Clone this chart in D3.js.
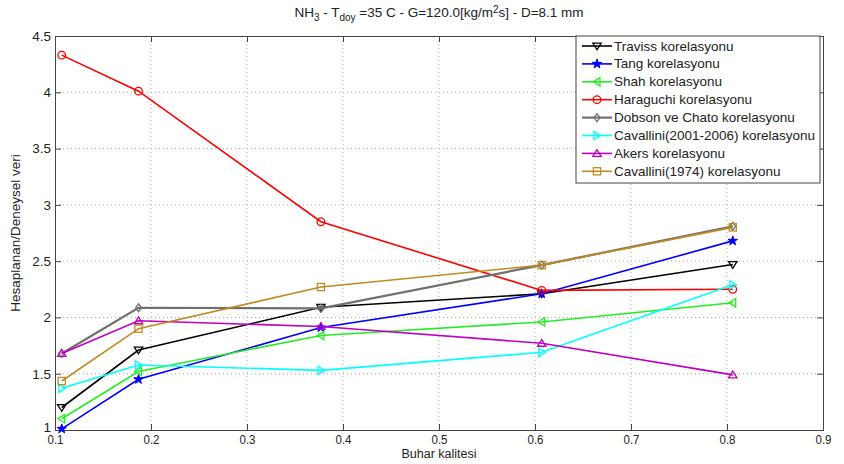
<!DOCTYPE html>
<html><head><meta charset="utf-8">
<script src="https://cdn.jsdelivr.net/npm/d3@7"></script>
<style>body{margin:0;background:#fff;} svg{display:block;font-family:"Liberation Sans",Arial,sans-serif;}</style>
</head><body>
<svg id="c" width="844" height="464"></svg>
<script>
const xValues = [0.107, 0.187, 0.377, 0.607, 0.806];
const names = ["Traviss korelasyonu","Tang korelasyonu","Shah korelasyonu","Haraguchi korelasyonu","Dobson ve Chato korelasyonu","Cavallini(2001-2006) korelasyonu","Akers korelasyonu","Cavallini(1974) korelasyonu"];
const traviss   = [1.20, 1.71, 2.09, 2.21, 2.47];
const tang      = [1.01, 1.45, 1.91, 2.21, 2.68];
const shah      = [1.10, 1.52, 1.84, 1.96, 2.13];
const haraguchi = [4.33, 4.01, 2.85, 2.24, 2.25];
const dobson    = [1.68, 2.086, 2.08, 2.465, 2.81];
const cav2001   = [1.37, 1.577, 1.53, 1.69, 2.29];
const akers     = [1.68, 1.97, 1.92, 1.77, 1.49];
const cav1974   = [1.435, 1.90, 2.27, 2.465, 2.80];
const xTicks = [0.1,0.2,0.3,0.4,0.5,0.6,0.7,0.8,0.9];
const yTicks = [1,1.5,2,2.5,3,3.5,4,4.5];

const seriesVals = [traviss,tang,shah,haraguchi,dobson,cav2001,akers,cav1974];
const colors = ["#000000","#0000ff","#22ee22","#ff0000","#707070","#00ffff","#c000c0","#c08a20"];
const markers = ["tdown","star","tleft","circle","diamond","tright","tup","square"];
const widths = [1.6,1.6,1.6,1.6,2.2,1.6,1.6,1.6];

const svg = d3.select("#c");
const L=55, R=823, T=36, B=430;
const x = d3.scaleLinear().domain([0.1,0.9]).range([L,R]);
const y = d3.scaleLinear().domain([1,4.5]).range([B,T]);

// grid
const g = svg.append("g");
g.selectAll(".gx").data(xTicks.slice(1,-1)).enter().append("line")
 .attr("x1",d=>x(d)).attr("x2",d=>x(d)).attr("y1",T).attr("y2",B)
 .attr("stroke","#aaa").attr("stroke-width",1).attr("stroke-dasharray","1,3");
g.selectAll(".gy").data(yTicks.slice(1,-1)).enter().append("line")
 .attr("y1",d=>y(d)).attr("y2",d=>y(d)).attr("x1",L).attr("x2",R)
 .attr("stroke","#aaa").attr("stroke-width",1).attr("stroke-dasharray","1,3");

// axes
const xAxis = d3.axisBottom(x).tickValues(xTicks).tickSize(-6).tickPadding(4).tickFormat(d3.format(".1f"));
const yAxis = d3.axisLeft(y).tickValues(yTicks).tickSize(-6).tickPadding(4).tickFormat(d=>String(d));
const ax = svg.append("g").attr("transform",`translate(0,${B})`).call(xAxis);
const ay = svg.append("g").attr("transform",`translate(${L},0)`).call(yAxis);
const axTop = svg.append("g").attr("transform",`translate(0,${T})`).call(d3.axisTop(x).tickValues(xTicks).tickSize(-6).tickFormat(""));
const ayR = svg.append("g").attr("transform",`translate(${R},0)`).call(d3.axisRight(y).tickValues(yTicks).tickSize(-6).tickFormat(""));
[ax,ay,axTop,ayR].forEach(a=>{a.select(".domain").attr("stroke","#444").attr("stroke-width",1);a.selectAll(".tick line").attr("stroke","#444");a.selectAll("text").attr("fill","#222").style("font-size","13.5px");});
ax.selectAll("text").attr("transform","scale(0.85,1)");
ay.selectAll(".tick").filter(d=>d===1).select("text").attr("dy","0.1em");

// axis labels
svg.append("text").attr("x",(L+R)/2).attr("y",458).attr("text-anchor","middle").style("font-size","12.5px").attr("fill","#222").text("Buhar kalitesi");
svg.append("text").attr("transform",`translate(20,${(T+B)/2}) rotate(-90)`).attr("text-anchor","middle").style("font-size","13.5px").attr("fill","#222").text("Hesaplanan/Deneysel veri");

// title
const t = svg.append("text").attr("x",439).attr("y",17).attr("text-anchor","middle").style("font-size","13.5px").attr("fill","#222");
t.append("tspan").text("NH");
t.append("tspan").attr("dy",4).style("font-size","10px").text("3");
t.append("tspan").attr("dy",-4).text(" - T");
t.append("tspan").attr("dy",4).style("font-size","10px").text("doy");
t.append("tspan").attr("dy",-4).text(" =35 C - G=120.0[kg/m");
t.append("tspan").attr("dy",-4).style("font-size","10px").text("2");
t.append("tspan").attr("dy",4).text("s] - D=8.1 mm");

function drawMarker(sel, type, cx, cy, color){
  const s=4.2;
  if(type==="circle") sel.append("circle").attr("cx",cx).attr("cy",cy).attr("r",3.8).attr("fill","none").attr("stroke",color).attr("stroke-width",1.3);
  else if(type==="square") sel.append("rect").attr("x",cx-3.6).attr("y",cy-3.6).attr("width",7.2).attr("height",7.2).attr("fill","none").attr("stroke",color).attr("stroke-width",1.3);
  else if(type==="diamond") sel.append("path").attr("d",`M${cx},${cy-4}L${cx+3},${cy}L${cx},${cy+4}L${cx-3},${cy}Z`).attr("fill","none").attr("stroke",color).attr("stroke-width",1.3);
  else if(type==="star") sel.append("path").attr("d",d3.symbol().type(d3.symbolStar).size(28)()).attr("transform",`translate(${cx},${cy})`).attr("fill",color).attr("stroke",color).attr("stroke-width",1);
  else {
    let p;
    if(type==="tdown") p=`M${cx-s},${cy-s*0.7}L${cx+s},${cy-s*0.7}L${cx},${cy+s*0.9}Z`;
    if(type==="tup") p=`M${cx-s},${cy+s*0.7}L${cx+s},${cy+s*0.7}L${cx},${cy-s*0.9}Z`;
    if(type==="tleft") p=`M${cx+s*0.7},${cy-s}L${cx+s*0.7},${cy+s}L${cx-s*0.9},${cy}Z`;
    if(type==="tright") p=`M${cx-s*0.7},${cy-s}L${cx-s*0.7},${cy+s}L${cx+s*0.9},${cy}Z`;
    sel.append("path").attr("d",p).attr("fill","none").attr("stroke",color).attr("stroke-width",1.3);
  }
}

const line = d3.line().x(d=>x(d[0])).y(d=>y(d[1]));
seriesVals.forEach((vals,i)=>{
  const pts = xValues.map((xv,j)=>[xv,vals[j]]);
  const sg = svg.append("g");
  sg.append("path").attr("d",line(pts)).attr("fill","none").attr("stroke",colors[i]).attr("stroke-width",widths[i]);
  pts.forEach(p=>drawMarker(sg,markers[i],x(p[0]),y(p[1]),colors[i]));
});

// legend
const lg = svg.append("g");
lg.append("rect").attr("x",576).attr("y",36).attr("width",244).attr("height",147).attr("fill","#fff").attr("stroke","#444").attr("stroke-width",1);
names.forEach((n,i)=>{
  const ly = 46 + i*17.9;
  lg.append("line").attr("x1",582).attr("x2",612).attr("y1",ly).attr("y2",ly).attr("stroke",colors[i]).attr("stroke-width",widths[i]);
  drawMarker(lg,markers[i],597,ly,colors[i]);
  lg.append("text").attr("x",614).attr("y",ly+4.5).style("font-size","13.5px").attr("fill","#222").text(n);
});
</script>
</body></html>
